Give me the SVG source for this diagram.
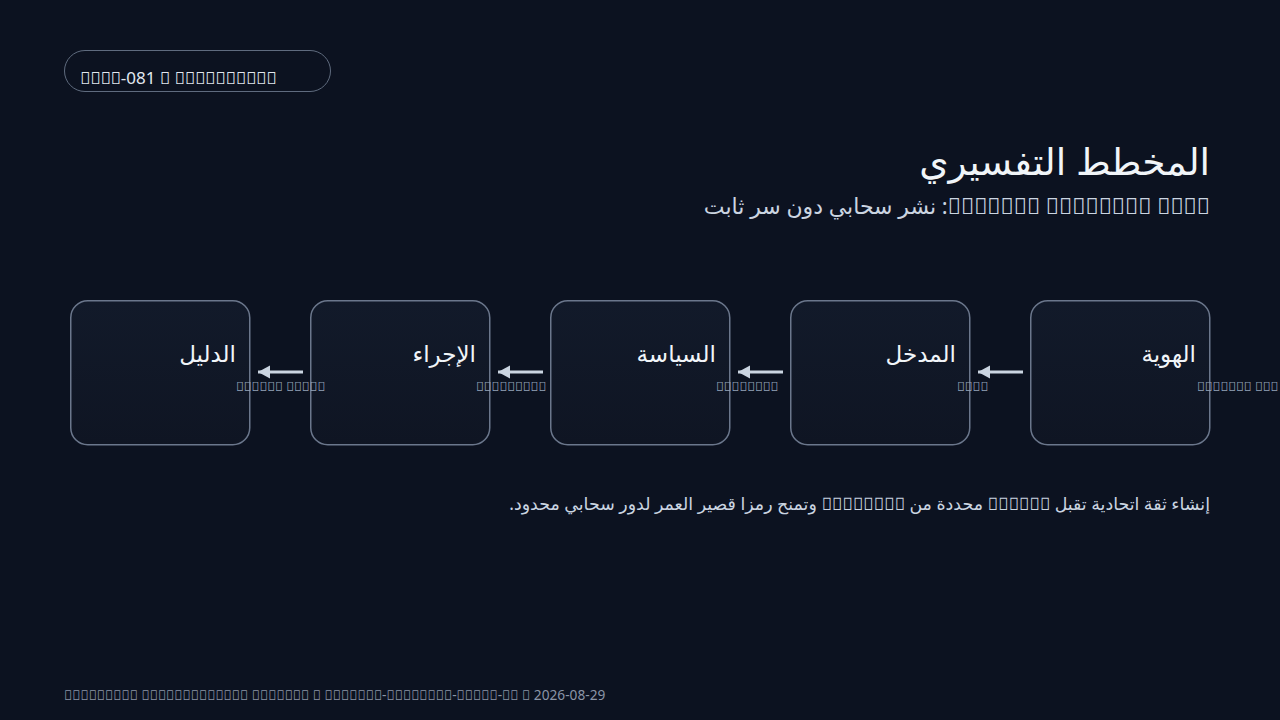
<svg xmlns="http://www.w3.org/2000/svg" width="1280" height="720" viewBox="0 0 1280 720">
<defs>
<linearGradient id="nodeFill" x1="0" y1="0" x2="0" y2="1">
<stop offset="0" stop-color="#121a2a"/>
<stop offset="1" stop-color="#0f1523"/>
</linearGradient>
<marker id="arrowHead" markerUnits="userSpaceOnUse" markerWidth="14" markerHeight="14" refX="12" refY="7" orient="auto">
<path d="M0,0.5 L12,7 L0,13.5 Z" fill="#cbd5e1"/>
</marker>
<style>
text{font-family:"Noto Sans","DejaVu Sans",sans-serif}
.rtl{direction:rtl;text-anchor:start}
.badge{fill:none;stroke:#5f6b7e;stroke-width:1}
.badgeText{font-size:17px;fill:#e2e8f0}
.title{font-size:37.5px;fill:#f1f5f9}
.subtitle{font-size:22px;fill:#cbd5e1}
.box{fill:url(#nodeFill);stroke:#6b778c;stroke-width:1.5}
.label{font-size:23px;fill:#f1f5f9}
.sub{font-size:13px;fill:#94a3b8}
.edge{stroke:#cbd5e1;stroke-width:3;fill:none;marker-end:url(#arrowHead)}
.body{font-size:17.4px;fill:#cbd5e1}
.footer{font-size:13.7px;fill:#8b95a7}
</style>
</defs>
<rect width="1280" height="720" fill="#0c1220"/>
<g id="badge">
<rect class="badge" x="64.5" y="50.5" width="266" height="41" rx="20.5"/>
<text class="badgeText" x="80" y="84">&#xE000;&#xE000;&#xE000;&#xE000;-081 &#xE000; &#xE000;&#xE000;&#xE000;&#xE000;&#xE000;&#xE000;&#xE000;&#xE000;&#xE000;&#xE000;</text>
</g>
<g id="heading">
<text class="title rtl" x="1210" y="175">المخطط التفسيري</text>
<text class="subtitle rtl" x="1210" y="214">&#xE000;&#xE000;&#xE000;&#xE000;&#xE000;&#xE000;&#xE000; &#xE000;&#xE000;&#xE000;&#xE000;&#xE000;&#xE000;&#xE000;&#xE000; &#xE000;&#xE000;&#xE000;&#xE000;: نشر سحابي دون سر ثابت</text>
</g>
<g id="node-identity">
<rect class="box" x="1030.75" y="300.75" width="179" height="144" rx="17"/>
<text class="label rtl" x="1196" y="362">الهوية</text>
<text class="sub" x="1197" y="391">&#xE000;&#xE000;&#xE000;&#xE000;&#xE000;&#xE000;&#xE000; &#xE000;&#xE000;&#xE000;</text>
</g>
<g id="node-input">
<rect class="box" x="790.75" y="300.75" width="179" height="144" rx="17"/>
<text class="label rtl" x="956" y="362">المدخل</text>
<text class="sub" x="957" y="391">&#xE000;&#xE000;&#xE000;&#xE000;</text>
</g>
<g id="node-policy">
<rect class="box" x="550.75" y="300.75" width="179" height="144" rx="17"/>
<text class="label rtl" x="716" y="362">السياسة</text>
<text class="sub" x="716" y="391">&#xE000;&#xE000;&#xE000;&#xE000;&#xE000;&#xE000;&#xE000;&#xE000;</text>
</g>
<g id="node-action">
<rect class="box" x="310.75" y="300.75" width="179" height="144" rx="17"/>
<text class="label rtl" x="476" y="362">الإجراء</text>
<text class="sub" x="476" y="391">&#xE000;&#xE000;&#xE000;&#xE000;&#xE000;&#xE000;&#xE000;&#xE000;&#xE000;</text>
</g>
<g id="node-evidence">
<rect class="box" x="70.75" y="300.75" width="179" height="144" rx="17"/>
<text class="label rtl" x="236" y="362">الدليل</text>
<text class="sub" x="236" y="391">&#xE000;&#xE000;&#xE000;&#xE000;&#xE000;&#xE000; &#xE000;&#xE000;&#xE000;&#xE000;&#xE000;</text>
</g>
<g id="connectors">
<line class="edge" x1="303" y1="372" x2="258" y2="372"/>
<line class="edge" x1="543" y1="372" x2="498" y2="372"/>
<line class="edge" x1="783" y1="372" x2="738" y2="372"/>
<line class="edge" x1="1023" y1="372" x2="978" y2="372"/>
</g>
<g id="description">
<text class="body rtl" x="1210" y="510">إنشاء ثقة اتحادية تقبل &#xE000;&#xE000;&#xE000;&#xE000;&#xE000;&#xE000; محددة من &#xE000;&#xE000;&#xE000;&#xE000;&#xE000;&#xE000;&#xE000;&#xE000; وتمنح رمزا قصير العمر لدور سحابي محدود.</text>
</g>
<g id="footer">
<text class="footer" x="64" y="700">&#xE000;&#xE000;&#xE000;&#xE000;&#xE000;&#xE000;&#xE000;&#xE000;&#xE000; &#xE000;&#xE000;&#xE000;&#xE000;&#xE000;&#xE000;&#xE000;&#xE000;&#xE000;&#xE000;&#xE000;&#xE000;&#xE000; &#xE000;&#xE000;&#xE000;&#xE000;&#xE000;&#xE000;&#xE000; &#xE000; &#xE000;&#xE000;&#xE000;&#xE000;&#xE000;&#xE000;&#xE000;-&#xE000;&#xE000;&#xE000;&#xE000;&#xE000;&#xE000;&#xE000;&#xE000;-&#xE000;&#xE000;&#xE000;&#xE000;&#xE000;-&#xE000;&#xE000; &#xE000; 2026-08-29</text>
</g>
</svg>
